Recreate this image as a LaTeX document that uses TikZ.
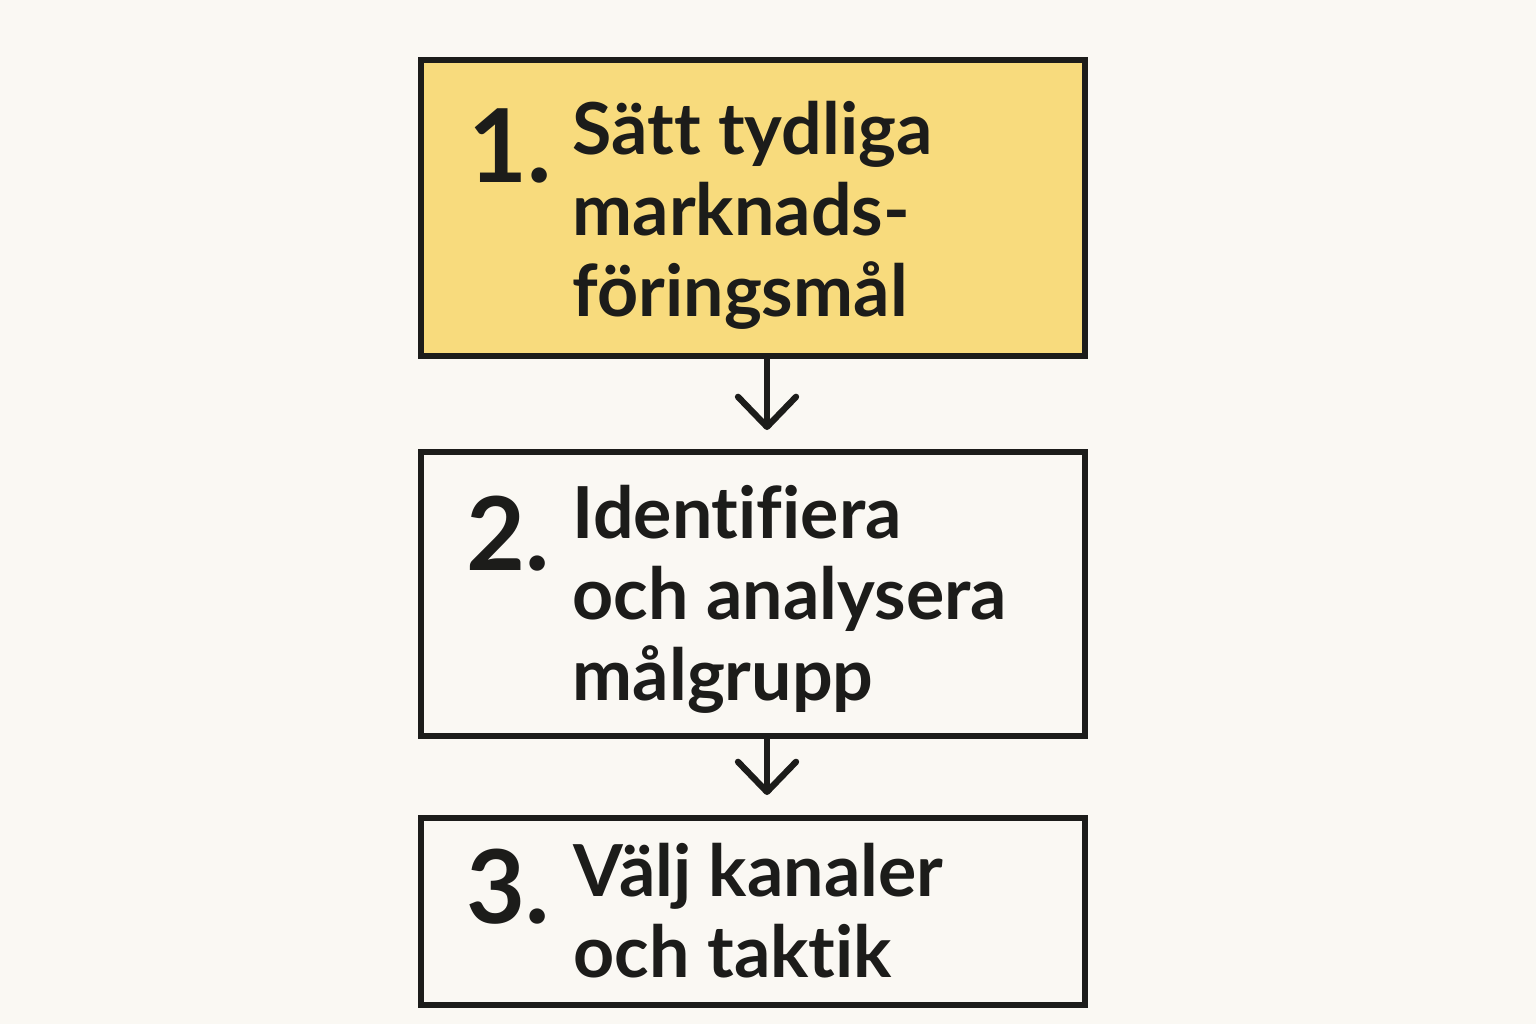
\documentclass[tikz,border=0pt]{standalone}
\usepackage{fontspec}
\setmainfont{Lato}[Ligatures=NoCommon]
\usetikzlibrary{arrows.meta}
\definecolor{paper}{HTML}{FAF8F3}
\definecolor{ink}{HTML}{1C1C1A}
\definecolor{goalfill}{HTML}{F8DB7D}
\tikzset{
  stepbox/.style={draw=ink, line width=1.7pt, fill=paper, minimum width=6.64cm, inner sep=0pt},
  stepnum/.style={anchor=base west, inner sep=0pt, text=ink, font=\fontsize{29}{29}\selectfont\bfseries},
  steptext/.style={anchor=base west, inner sep=0pt, text=ink, align=left, font=\fontsize{20.4}{23}\selectfont\bfseries},
  flow/.style={draw=ink, line width=1.8pt, line cap=round, -{Straight Barb[length=0.3cm, width=0.58cm, line width=1.8pt, round]}}
}
\begin{document}
\begin{tikzpicture}
\fill[paper] (0,0) rectangle (15.36,10.24);
\useasboundingbox (0,0) rectangle (15.36,10.24);
\node[stepbox, fill=goalfill, minimum height=2.96cm] (goal) at (7.53,8.16) {};
\node[stepbox, minimum height=2.84cm] (audience) at (7.53,4.30) {};
\node[stepbox, minimum height=1.87cm] (channels) at (7.53,1.125) {};
% last line sits on the given baseline
\node[stepnum] (n1) at (4.68,8.41) {1.};
\node[steptext] (t1) at (5.72,7.08) {Sätt tydliga\\marknads-\\föringsmål};
\node[stepnum] (n2) at (4.66,4.54) {2.};
\node[steptext] (t2) at (5.72,3.24) {Identifiera\\och analysera\\målgrupp};
\node[stepnum] (n3) at (4.66,1.01) {3.};
\node[steptext] (t3) at (5.73,0.47) {Välj kanaler\\och taktik};
\draw[flow, shorten >=0.19cm] ([xshift=0.14cm]goal.south) -- ([xshift=0.14cm]audience.north);
\draw[flow, shorten >=0.2cm] ([xshift=0.14cm]audience.south) -- ([xshift=0.14cm]channels.north);
\end{tikzpicture}
\end{document}
